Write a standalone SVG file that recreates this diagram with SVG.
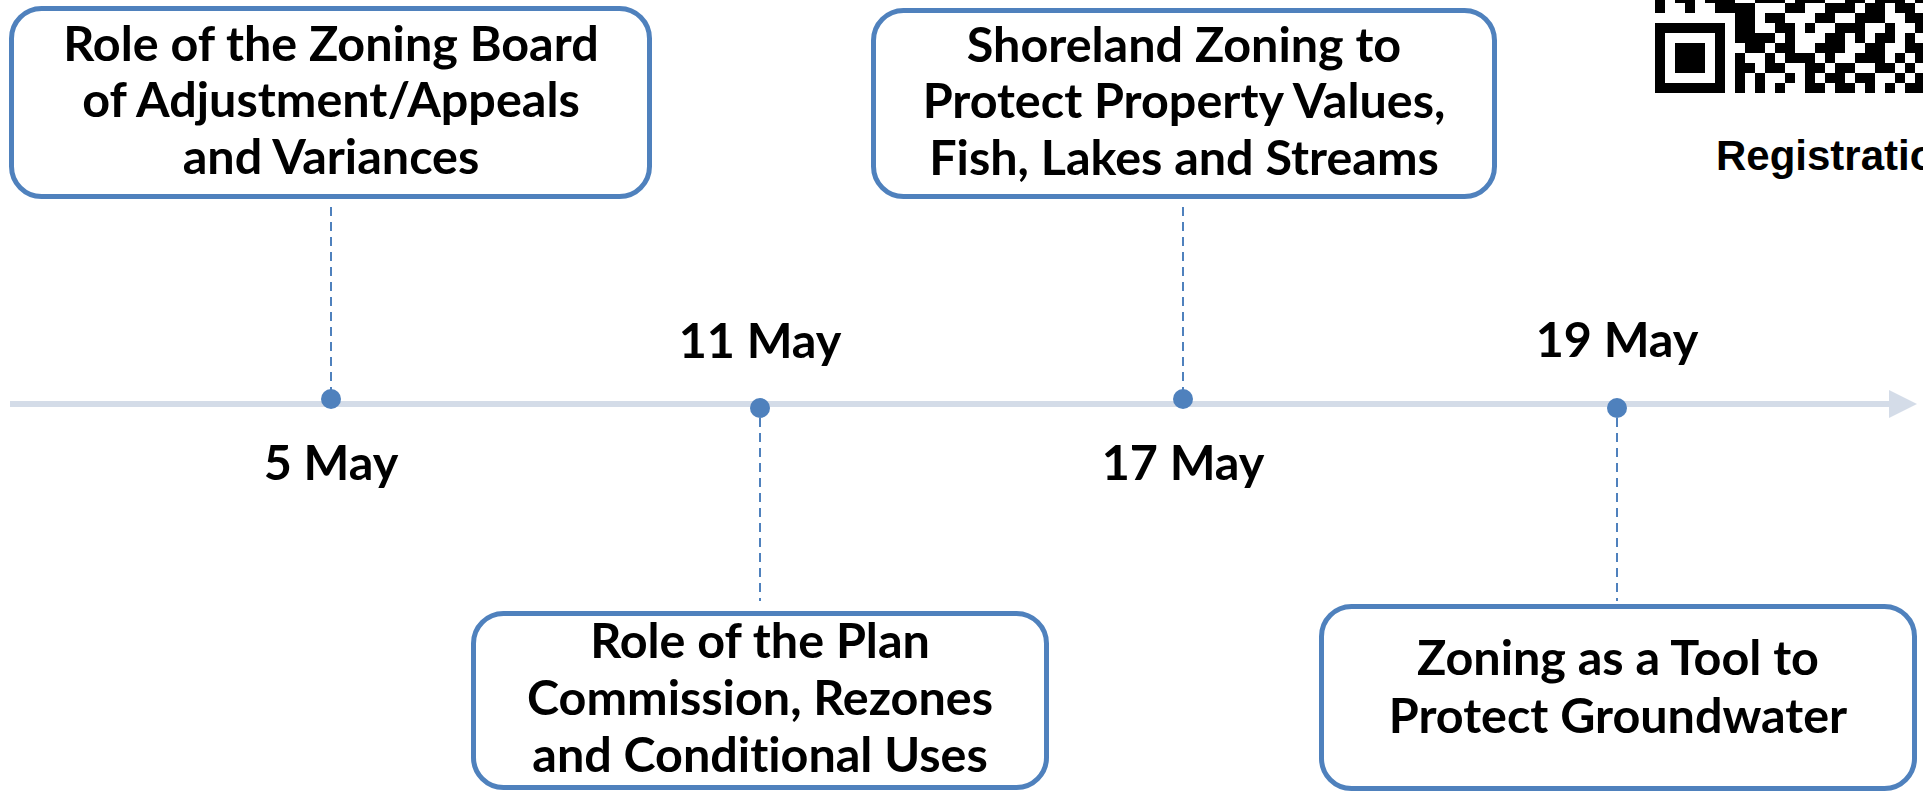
<svg xmlns="http://www.w3.org/2000/svg" width="1923" height="791" viewBox="0 0 1923 791">
<defs>
<style>
.box{fill:#fff;stroke:#4F81BD;stroke-width:5}
.t{font-family:Lato,"Liberation Sans",sans-serif;font-weight:bold;font-size:48.5px;fill:#000;text-anchor:middle;font-variant-ligatures:none}
.dash{stroke:#4F81BD;stroke-width:2;stroke-dasharray:9 6;fill:none}
.dot{fill:#4F81BD}
.axis{stroke:#D4DCE8;stroke-width:6;fill:none}
</style>
</defs>
<rect width="1923" height="791" fill="#fff"/>
<g id="qr" fill="#000">
<rect x="1660" y="28" width="60" height="60" fill="none" stroke="#000" stroke-width="10"/>
<rect x="1675" y="43" width="30" height="30"/>
<path d="M1655 -7h10v10h-10zM1675 -7h20v10h-20zM1705 -7h30v10h-30zM1755 -7h30v10h-30zM1795 -7h30v10h-30zM1845 -7h20v10h-20zM1875 -7h30v10h-30zM1915 -7h20v10h-20z
M1655 3h10v10h-10zM1685 3h10v10h-10zM1715 3h40v10h-40zM1785 3h20v10h-20zM1825 3h30v10h-30zM1865 3h20v10h-20zM1895 3h20v10h-20z
M1735 13h20v10h-20zM1765 13h20v10h-20zM1815 13h20v10h-20zM1855 13h30v10h-30zM1905 13h20v10h-20z
M1735 23h20v10h-20zM1775 23h20v10h-20zM1805 23h10v10h-10zM1835 23h30v10h-30zM1885 23h10v10h-10zM1915 23h20v10h-20z
M1735 33h40v10h-40zM1785 33h10v10h-10zM1825 33h20v10h-20zM1855 33h10v10h-10zM1875 33h20v10h-20zM1905 33h10v10h-10z
M1745 43h20v10h-20zM1775 43h20v10h-20zM1815 43h30v10h-30zM1865 43h20v10h-20zM1905 43h30v10h-30z
M1735 53h10v10h-10zM1765 53h10v10h-10zM1785 53h30v10h-30zM1825 53h10v10h-10zM1855 53h30v10h-30zM1895 53h10v10h-10zM1915 53h20v10h-20z
M1735 63h20v10h-20zM1765 63h20v10h-20zM1805 63h20v10h-20zM1835 63h20v10h-20zM1875 63h20v10h-20zM1905 63h10v10h-10z
M1735 73h10v10h-10zM1755 73h10v10h-10zM1785 73h10v10h-10zM1805 73h10v10h-10zM1825 73h20v10h-20zM1855 73h20v10h-20zM1895 73h10v10h-10zM1915 73h20v10h-20z
M1735 83h10v10h-10zM1755 83h10v10h-10zM1775 83h10v10h-10zM1805 83h20v10h-20zM1835 83h20v10h-20zM1865 83h10v10h-10zM1885 83h10v10h-10zM1905 83h30v10h-30z"/>
<text x="1716" y="170" font-family="'Liberation Sans',Arial,sans-serif" font-weight="bold" font-size="42" fill="#000">Registratio</text>
</g>
<g id="connectors">
<line class="axis" x1="10" y1="404" x2="1892" y2="404"/>
<polygon points="1889,390 1917,404 1889,418" fill="#D4DCE8"/>
<line class="dash" x1="331" y1="207" x2="331" y2="390"/>
<line class="dash" x1="1183" y1="207" x2="1183" y2="390"/>
<line class="dash" x1="760" y1="418" x2="760" y2="601"/>
<line class="dash" x1="1617" y1="418" x2="1617" y2="601"/>
</g>
<g id="d1"><circle class="dot" cx="331" cy="399" r="10"/><text class="t" x="331" y="480">5 May</text></g>
<g id="d2"><circle class="dot" cx="760" cy="408" r="10"/><text class="t" x="760" y="358">11 May</text></g>
<g id="d3"><circle class="dot" cx="1183" cy="399" r="10"/><text class="t" x="1183" y="480">17 May</text></g>
<g id="d4"><circle class="dot" cx="1617" cy="408" r="10"/><text class="t" x="1617" y="357">19 May</text></g>
<g id="n1">
<rect class="box" x="11.5" y="8.5" width="638" height="188" rx="30"/>
<text class="t" x="331" y="61">Role of the Zoning Board</text>
<text class="t" x="331" y="117">of Adjustment/Appeals</text>
<text class="t" x="331" y="174">and Variances</text>
</g>
<g id="n2">
<rect class="box" x="873.5" y="10.5" width="621" height="186" rx="30"/>
<text class="t" x="1184" y="62">Shoreland Zoning to</text>
<text class="t" x="1184" y="118">Protect Property Values,</text>
<text class="t" x="1184" y="175">Fish, Lakes and Streams</text>
</g>
<g id="n3">
<rect class="box" x="473.5" y="613.5" width="573" height="174" rx="30"/>
<text class="t" x="760" y="658">Role of the Plan</text>
<text class="t" x="760" y="715">Commission, Rezones</text>
<text class="t" x="760" y="772">and Conditional Uses</text>
</g>
<g id="n4">
<rect class="box" x="1321.5" y="606.5" width="593" height="182" rx="30"/>
<text class="t" x="1618" y="675">Zoning as a Tool to</text>
<text class="t" x="1618" y="733">Protect Groundwater</text>
</g>
</svg>
